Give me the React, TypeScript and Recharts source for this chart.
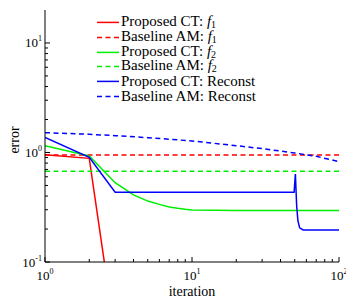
import { LineChart, Line, XAxis, YAxis, Legend } from 'recharts';

// Proposed CT / Baseline AM error per iteration
const ctF1Iter = [1, 2, 3];
const ctF1Err = [0.955, 0.884, 0.021];

const amF1Iter = [1, 100];
const amF1Err = [0.948, 0.948];

const ctF2Iter = [1, 2, 3, 4, 5, 6, 7, 8, 9, 10, 20, 50, 100];
const ctF2Err = [1.154, 0.93, 0.53, 0.41, 0.36, 0.336, 0.318, 0.309, 0.303, 0.299, 0.296, 0.296, 0.296];

const amF2Iter = [1, 100];
const amF2Err = [0.673, 0.673];

const ctRecIter = [1, 2, 3, 49.5, 50.5, 51.5, 52.5, 54, 57, 100];
const ctRecErr = [1.375, 0.903, 0.434, 0.434, 0.637, 0.33, 0.24, 0.205, 0.196, 0.196];

const amRecIter = [1, 2, 3, 5, 10, 20, 30, 50, 70, 100];
const amRecErr = [1.517, 1.465, 1.425, 1.366, 1.274, 1.154, 1.084, 0.99, 0.922, 0.825];

const xTicks = [1, 2, 3, 4, 5, 6, 7, 8, 9, 10, 20, 30, 40, 50, 60, 70, 80, 90, 100];
const yTicks = [0.1, 0.2, 0.3, 0.4, 0.5, 0.6, 0.7, 0.8, 0.9, 1, 2, 3, 4, 5, 6, 7, 8, 9, 10];

const toPoints = (xs: number[], ys: number[]) => xs.map((x, i) => ({ x, y: ys[i] }));

const series = [
  { name: 'Proposed CT', target: 'f1', color: '#ff0000', dashed: false, data: toPoints(ctF1Iter, ctF1Err) },
  { name: 'Baseline AM', target: 'f1', color: '#ff0000', dashed: true, data: toPoints(amF1Iter, amF1Err) },
  { name: 'Proposed CT', target: 'f2', color: '#00ee00', dashed: false, data: toPoints(ctF2Iter, ctF2Err) },
  { name: 'Baseline AM', target: 'f2', color: '#00ee00', dashed: true, data: toPoints(amF2Iter, amF2Err) },
  { name: 'Proposed CT', target: 'Reconst', color: '#0000ff', dashed: false, data: toPoints(ctRecIter, ctRecErr) },
  { name: 'Baseline AM', target: 'Reconst', color: '#0000ff', dashed: true, data: toPoints(amRecIter, amRecErr) },
];

const FONT = "'Liberation Serif', 'Times New Roman', serif";
const DASH = '5 3.5';

const isMajor = (v: number) => Math.abs(Math.log10(v) - Math.round(Math.log10(v))) < 1e-6;

const Pow = ({ x, y, exp, anchor }: { x: number; y: number; exp: number; anchor: string }) => (
  <text x={x} y={y} textAnchor={anchor as any} fontFamily={FONT} fontSize={13} fill="#000">
    10<tspan dy={-6} fontSize={8}>{exp}</tspan>
  </text>
);

const tickLen = (v: number) => (isMajor(v) ? 5 : 3);

const LeftTick = ({ x, y, payload }: any) => {
  const v = payload.value;
  return (
    <g>
      <line x1={x} x2={x + tickLen(v)} y1={y} y2={y} stroke="#000" />
      {isMajor(v) && <Pow x={x - 3} y={y + 4.5} exp={Math.round(Math.log10(v))} anchor="end" />}
    </g>
  );
};

const RightTick = ({ x, y, payload }: any) => (
  <line x1={x} x2={x - tickLen(payload.value)} y1={y} y2={y} stroke="#000" />
);

const BottomTick = ({ x, y, payload }: any) => {
  const v = payload.value;
  return (
    <g>
      <line x1={x} x2={x} y1={y} y2={y - tickLen(v)} stroke="#000" />
      {isMajor(v) && <Pow x={x} y={y + 18} exp={Math.round(Math.log10(v))} anchor="middle" />}
    </g>
  );
};

const TopTick = ({ x, y, payload }: any) => (
  <line x1={x} x2={x} y1={y} y2={y + tickLen(payload.value)} stroke="#000" />
);

const YTitle = ({ viewBox }: any) => {
  const cx = viewBox.x + 14;
  const cy = viewBox.y + viewBox.height / 2 + 4;
  return (
    <text x={cx} y={cy} transform={`rotate(-90, ${cx}, ${cy})`} textAnchor="middle" dominantBaseline="central"
      fontFamily={FONT} fontSize={14} fill="#000">
      error
    </text>
  );
};

const XTitle = ({ viewBox }: any) => (
  <text x={viewBox.x + viewBox.width / 2} y={viewBox.y + 34} textAnchor="middle"
    fontFamily={FONT} fontSize={14} fill="#000">
    iteration
  </text>
);

const Target = ({ t }: { t: string }) => {
  if (t === 'Reconst') return <span>{t}</span>;
  return (
    <span>
      <i style={{ fontSize: 15 }}>{t[0]}</i>
      <span style={{ fontSize: 10, position: 'relative', top: 2 }}>{t.slice(1)}</span>
    </span>
  );
};

const LegendBox = () => (
  <div style={{ fontFamily: FONT, fontSize: 15, color: '#000' }}>
    {series.map((s, i) => (
      <div key={i} style={{ display: 'flex', alignItems: 'center', height: 14.8, whiteSpace: 'nowrap' }}>
        <svg width={22} height={14.8} style={{ display: 'block' }}>
          <line x1={0} x2={22} y1={7.4} y2={7.4} stroke={s.color} strokeWidth={1.5}
            strokeDasharray={s.dashed ? DASH : undefined} />
        </svg>
        <span style={{ marginLeft: 2, lineHeight: '14.8px' }}>
          {s.name}: <Target t={s.target} />
        </span>
      </div>
    ))}
  </div>
);

export default function App() {
  return (
    <div style={{ position: 'absolute', left: 0, top: 0, background: '#fff' }}>
      <LineChart width={346} height={298} margin={{ top: 10, right: 7, bottom: 0, left: 0 }}>
        <XAxis xAxisId="b" dataKey="x" type="number" scale="log" domain={[1, 100]} allowDataOverflow
          ticks={xTicks} interval={0} tickSize={0} tickMargin={0} height={36}
          stroke="#000" tick={<BottomTick />} label={<XTitle />} />
        <XAxis xAxisId="t" orientation="top" type="number" scale="log" domain={[1, 100]} allowDataOverflow
          ticks={xTicks} interval={0} tickSize={0} tickMargin={0} height={0}
          stroke="#000" tick={<TopTick />} />
        <YAxis yAxisId="l" type="number" scale="log" domain={[0.1, 20]} allowDataOverflow
          ticks={yTicks} interval={0} tickSize={0} tickMargin={0} width={45}
          stroke="#000" tick={<LeftTick />} label={<YTitle />} />
        <YAxis yAxisId="r" orientation="right" type="number" scale="log" domain={[0.1, 20]} allowDataOverflow
          ticks={yTicks} interval={0} tickSize={0} tickMargin={0} width={0}
          stroke="#000" tick={<RightTick />} />
        <Legend layout="vertical" align="center" verticalAlign="middle" content={<LegendBox />}
          wrapperStyle={{ left: 97, top: 15, width: 'auto' }} />
        {series.map((s, i) => (
          <Line key={i} xAxisId="b" yAxisId="l" data={s.data} dataKey="y" name={`${s.name}: ${s.target}`}
            type="linear" stroke={s.color} strokeWidth={1.5} strokeDasharray={s.dashed ? DASH : undefined}
            dot={false} activeDot={false} isAnimationActive={false} />
        ))}
      </LineChart>
    </div>
  );
}
